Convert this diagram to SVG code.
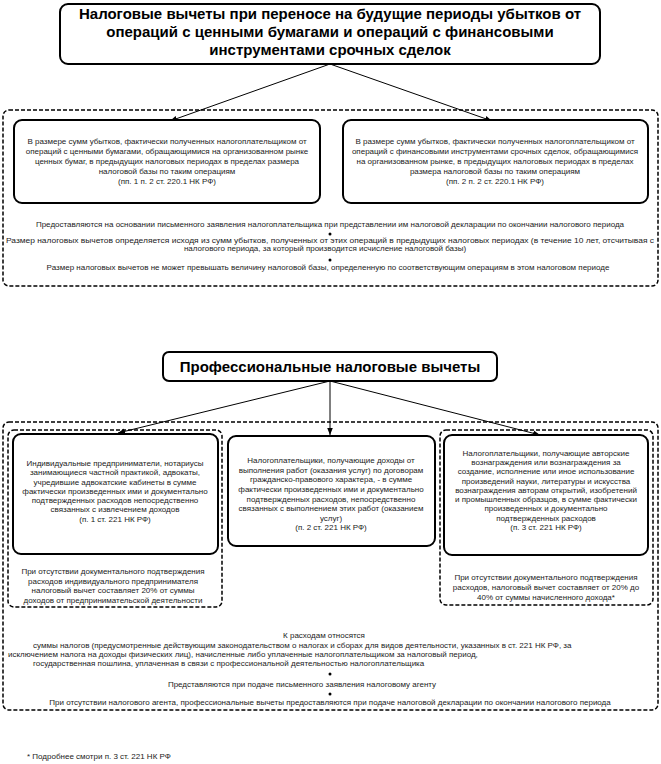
<svg xmlns="http://www.w3.org/2000/svg" width="661" height="764" viewBox="0 0 661 764">
<defs>
<marker id="arr" viewBox="0 0 10 10" refX="10" refY="5" markerWidth="7" markerHeight="7" orient="auto" markerUnits="userSpaceOnUse">
<path d="M0,1 L10,5 L0,9 z" fill="#000"/>
</marker>
<style>
.t{font-family:"Liberation Sans",Arial,sans-serif;font-size:8px;fill:#222;text-anchor:middle}
.s{text-anchor:start}
.h{font-family:"Liberation Sans",Arial,sans-serif;font-size:15px;font-weight:bold;fill:#000;text-anchor:middle}
.box{fill:#fff;stroke:#000;stroke-width:2}
.dash{fill:none;stroke:#000;stroke-width:1.5;stroke-dasharray:4 2}
.conn{stroke:#000;stroke-width:1;fill:none;marker-end:url(#arr)}
.dot{fill:#000}
</style>
</defs>
<rect width="661" height="764" fill="#fff"/>

<g id="connectors">
<line class="conn" x1="330" y1="64" x2="170" y2="121"/>
<line class="conn" x1="330" y1="64" x2="492" y2="121"/>
<line class="conn" x1="330" y1="381" x2="118" y2="433"/>
<line class="conn" x1="330" y1="381" x2="330" y2="435"/>
<line class="conn" x1="330" y1="381" x2="540" y2="435"/>
</g>

<g id="title1">
<rect class="box" x="60" y="4" width="540" height="60" rx="8"/>
<text class="h" x="330" y="19">Налоговые вычеты при переносе на будущие периоды убытков от</text>
<text class="h" x="330" y="37">операций с ценными бумагами и операций с финансовыми</text>
<text class="h" x="330" y="55">инструментами срочных сделок</text>
</g>

<g id="group1">
<rect class="dash" x="3" y="110" width="655" height="176" rx="6"/>
</g>

<g id="loss-securities">
<rect class="box" x="14" y="120" width="306" height="83" rx="8"/>
<text class="t" x="167" y="144">В размере сумм убытков, фактически полученных налогоплательщиком от</text>
<text class="t" x="167" y="154">операций с ценными бумагами, обращающимися на организованном рынке</text>
<text class="t" x="167" y="164">ценных бумаг, в предыдущих налоговых периодах в пределах размера</text>
<text class="t" x="167" y="174">налоговой базы по таким операциям</text>
<text class="t" x="167" y="184">(пп. 1 п. 2 ст. 220.1 НК РФ)</text>
</g>

<g id="loss-derivatives">
<rect class="box" x="343" y="120" width="305" height="83" rx="8"/>
<text class="t" x="495" y="144">В размере сумм убытков, фактически полученных налогоплательщиком от</text>
<text class="t" x="495" y="154">операций с финансовыми инструментами срочных сделок, обращающимися</text>
<text class="t" x="495" y="164">на организованном рынке, в предыдущих налоговых периодах в пределах</text>
<text class="t" x="495" y="174">размера налоговой базы по таким операциям</text>
<text class="t" x="495" y="184">(пп. 2 п. 2 ст. 220.1 НК РФ)</text>
</g>

<g id="notes1">
<text class="t" x="330" y="227">Предоставляются на основании письменного заявления налогоплательщика при представлении им налоговой декларации по окончании налогового периода</text>
<circle class="dot" cx="330" cy="234" r="1.5"/>
<text class="t" x="330" y="243" textLength="648" lengthAdjust="spacingAndGlyphs">Размер налоговых вычетов определяется исходя из сумм убытков, полученных от этих операций в предыдущих налоговых периодах (в течение 10 лет, отсчитывая с</text>
<text class="t" x="325" y="251">налогового периода, за который производится исчисление налоговой базы)</text>
<circle class="dot" cx="330" cy="260" r="1.5"/>
<text class="t" x="328" y="270">Размер налоговых вычетов не может превышать величину налоговой базы, определенную по соответствующим операциям в этом налоговом периоде</text>
</g>

<g id="title2">
<rect class="box" x="163" y="352" width="334" height="29" rx="6"/>
<text class="h" x="330" y="372">Профессиональные налоговые вычеты</text>
</g>

<g id="group2">
<rect class="dash" x="3" y="422" width="655" height="288" rx="6"/>
</g>

<g id="entrepreneurs">
<rect class="dash" x="8" y="430" width="214" height="177" rx="6"/>
<rect class="box" x="13" y="434" width="205" height="120" rx="8"/>
<text class="t" x="115" y="466">Индивидуальные предприниматели, нотариусы</text>
<text class="t" x="115" y="475">занимающиеся частной практикой, адвокаты,</text>
<text class="t" x="115" y="485">учредившие адвокатские кабинеты в сумме</text>
<text class="t" x="115" y="494">фактически произведенных ими и документально</text>
<text class="t" x="115" y="503">подтвержденных расходов непосредственно</text>
<text class="t" x="115" y="512">связанных с извлечением доходов</text>
<text class="t" x="115" y="522">(п. 1 ст. 221 НК РФ)</text>
<text class="t" x="113" y="574">При отсутствии документального подтверждения</text>
<text class="t" x="113" y="584">расходов индивидуального предпринимателя</text>
<text class="t" x="113" y="593">налоговый вычет составляет 20% от суммы</text>
<text class="t" x="113" y="603">доходов от предпринимательской деятельности</text>
</g>

<g id="contracts">
<rect class="box" x="228" y="436" width="207" height="110" rx="8"/>
<text class="t" x="331" y="463">Налогоплательщики, получающие доходы от</text>
<text class="t" x="331" y="473">выполнения работ (оказания услуг) по договорам</text>
<text class="t" x="331" y="482">гражданско-правового характера, - в сумме</text>
<text class="t" x="331" y="492">фактически произведенных ими и документально</text>
<text class="t" x="331" y="502">подтвержденных расходов, непосредственно</text>
<text class="t" x="331" y="511">связанных с выполнением этих работ (оказанием</text>
<text class="t" x="331" y="521">услуг)</text>
<text class="t" x="331" y="530">(п. 2 ст. 221 НК РФ)</text>
</g>

<g id="authors">
<rect class="dash" x="440" y="430" width="213" height="175" rx="6"/>
<rect class="box" x="444" y="435" width="204" height="120" rx="8"/>
<text class="t" x="546" y="456">Налогоплательщики, получающие авторские</text>
<text class="t" x="546" y="465">вознаграждения или вознаграждения за</text>
<text class="t" x="546" y="474">создание, исполнение или иное использование</text>
<text class="t" x="546" y="484">произведений науки, литературы и искусства</text>
<text class="t" x="546" y="493">вознаграждения авторам открытий, изобретений</text>
<text class="t" x="546" y="502">и промышленных образцов, в сумме фактически</text>
<text class="t" x="546" y="511">произведенных и документально</text>
<text class="t" x="546" y="521">подтвержденных расходов</text>
<text class="t" x="546" y="530">(п. 3 ст. 221 НК РФ)</text>
<text class="t" x="546" y="580">При отсутствии документального подтверждения</text>
<text class="t" x="546" y="590">расходов, налоговый вычет составляет от 20% до</text>
<text class="t" x="546" y="600">40% от суммы начисленного дохода*</text>
</g>

<g id="notes2">
<text class="t" x="324" y="638">К расходам относятся</text>
<text class="t s" x="33" y="648">суммы налогов (предусмотренные действующим законодательством о налогах и сборах для видов деятельности, указанных в ст. 221 НК РФ, за</text>
<text class="t s" x="8" y="657">исключением налога на доходы физических лиц), начисленные либо уплаченные налогоплательщиком за налоговый период,</text>
<text class="t s" x="33" y="666">государственная пошлина, уплаченная в связи с профессиональной деятельностью налогоплательщика</text>
<circle class="dot" cx="330" cy="674" r="1.5"/>
<text class="t" x="302" y="687">Представляются при подаче письменного заявления налоговому агенту</text>
<circle class="dot" cx="330" cy="694" r="1.5"/>
<text class="t" x="330" y="705">При отсутствии налогового агента, профессиональные вычеты предоставляются при подаче налоговой декларации по окончании налогового периода</text>
</g>

<g id="footnote">
<text class="t s" x="27" y="759">* Подробнее смотри п. 3 ст. 221 НК РФ</text>
</g>
</svg>
